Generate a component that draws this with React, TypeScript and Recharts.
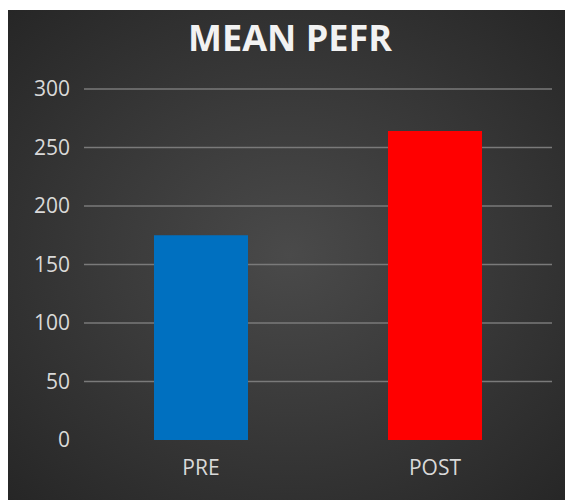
import { BarChart, Bar, XAxis, YAxis, CartesianGrid, Cell } from "recharts";

const categories = ["PRE", "POST"];
const meanPefr = [175, 264];
const barColors = ["#0070C0", "#FF0000"];
const yTicks = [0, 50, 100, 150, 200, 250, 300];
const gridValues = [50, 100, 150, 200, 250, 300];

const data = categories.map((name, i) => ({ name, value: meanPefr[i] }));

const W = 566;
const H = 490;

const App = () => {
  return (
    <div
      style={{
        position: "relative",
        width: W,
        height: H,
        marginTop: 2,
        marginLeft: -1,
        background: "radial-gradient(ellipse at 50% 50%, #4a4a4a 0%, #3a3a3a 45%, #262626 100%)",
        fontFamily: "'Open Sans', sans-serif",
      }}
    >
      <div
        style={{
          position: "absolute",
          top: 3,
          left: 0,
          width: W,
          textAlign: "center",
          color: "#f2f2f2",
          fontSize: 36,
          fontWeight: 700,
        }}
      >
        MEAN PEFR
      </div>
      <BarChart
        width={W}
        height={H}
        data={data}
        margin={{ top: 79, right: 21, bottom: 30, left: 0 }}
      >
        <CartesianGrid vertical={false} stroke="#7a7a7a" strokeWidth={1.5} horizontalValues={gridValues} />
        <XAxis
          dataKey="name"
          axisLine={false}
          tickLine={false}
          tickSize={0}
          tickMargin={20}
          height={30}
          tick={{ fill: "#d9d9d9", fontSize: 21 }}
        />
        <YAxis
          domain={[0, 300]}
          ticks={yTicks}
          axisLine={false}
          tickLine={false}
          tickSize={0}
          tickMargin={14}
          width={77}
          tick={{ fill: "#d9d9d9", fontSize: 21 }}
        />
        <Bar dataKey="value" isAnimationActive={false} barSize={94}>
          {data.map((d, i) => (
            <Cell key={d.name} fill={barColors[i]} />
          ))}
        </Bar>
      </BarChart>
    </div>
  );
};

export default App;
